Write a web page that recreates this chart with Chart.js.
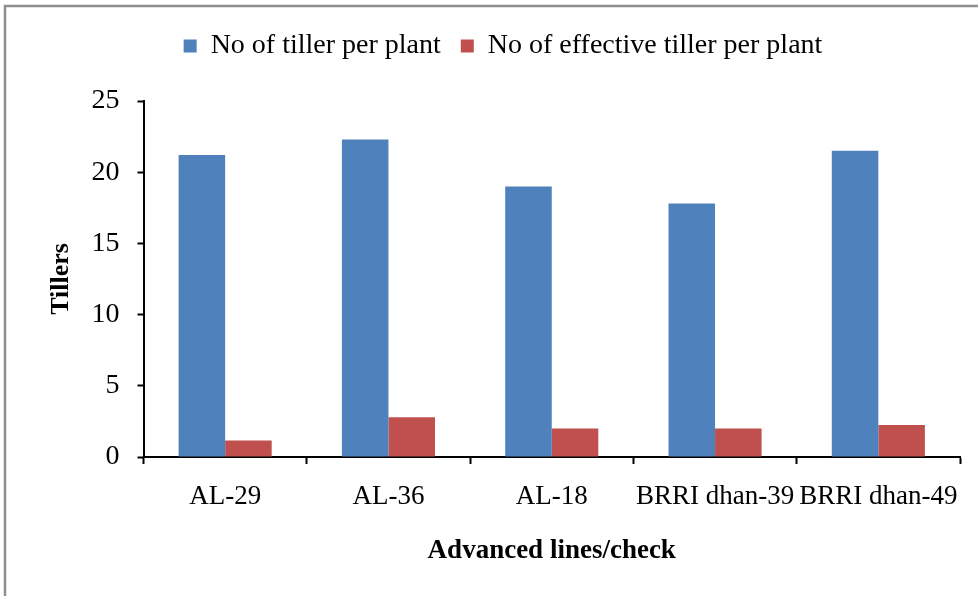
<!DOCTYPE html>
<html>
<head>
<meta charset="utf-8">
<script src="https://cdn.jsdelivr.net/npm/chart.js@4.4.1/dist/chart.umd.min.js"></script>
<style>
  html, body { margin: 0; padding: 0; background: #fff; }
  #wrap { width: 978px; height: 596px; position: relative; }
</style>
</head>
<body>
<div id="wrap"><canvas id="c" width="978" height="596"></canvas></div>
<script>
// Tiller counts per advanced line / check variety
const categories = ['AL-29', 'AL-36', 'AL-18', 'BRRI dhan-39', 'BRRI dhan-49'];
const tillerPerPlant = [21.2, 22.3, 19.0, 17.8, 21.5];
const effectiveTillerPerPlant = [1.15, 2.8, 2.0, 2.0, 2.25];
const seriesNames = ['No of tiller per plant', 'No of effective tiller per plant'];
const yTicks = [0, 5, 10, 15, 20, 25];

const FONT = "'Liberation Serif', 'Times New Roman', serif";
const LEGEND_BLOCK_HEIGHT = 89; // legend row plus the gap above the plot

// White page with a grey frame along the top and left edges
const framePlugin = {
  id: 'frame',
  beforeDraw(chart) {
    const ctx = chart.ctx;
    ctx.save();
    ctx.fillStyle = '#ffffff';
    ctx.fillRect(0, 0, chart.width, chart.height);
    ctx.strokeStyle = '#8f8f8f';
    ctx.lineWidth = 2.5;
    ctx.beginPath();
    ctx.moveTo(5, chart.height);
    ctx.lineTo(5, 6);
    ctx.lineTo(chart.width, 6);
    ctx.stroke();
    ctx.restore();
  }
};

// Give the legend a fixed block height so the plot starts lower
const legendSpacer = {
  id: 'legendSpacer',
  beforeLayout(chart) {
    const lg = chart.legend;
    if (lg && !lg._spaced) {
      const origFit = lg.fit.bind(lg);
      lg.fit = function () {
        origFit();
        this.height = LEGEND_BLOCK_HEIGHT;
      };
      lg._spaced = true;
    }
  }
};

new Chart(document.getElementById('c'), {
  type: 'bar',
  data: {
    labels: categories,
    datasets: [
      { label: seriesNames[0], data: tillerPerPlant, backgroundColor: '#4F81BD' },
      { label: seriesNames[1], data: effectiveTillerPerPlant, backgroundColor: '#C0504D' }
    ]
  },
  options: {
    responsive: false,
    animation: false,
    devicePixelRatio: 1,
    layout: { padding: { left: 46, right: 18, top: 12, bottom: 29 } },
    datasets: { bar: { barPercentage: 1.0, categoryPercentage: 0.57 } },
    plugins: {
      tooltip: { enabled: false },
      legend: {
        position: 'top',
        labels: {
          color: '#000',
          font: { family: FONT, size: 28 },
          boxWidth: 13,
          boxHeight: 13,
          padding: 20
        }
      }
    },
    scales: {
      x: {
        afterFit(scale) { scale.height = 110; },
        border: { color: '#000', width: 2 },
        grid: {
          display: true,
          drawOnChartArea: false,
          drawTicks: true,
          tickLength: 7,
          tickColor: '#000',
          tickWidth: 2
        },
        ticks: {
          color: '#000',
          font: { family: FONT, size: 27 },
          padding: 17,
          maxRotation: 0,
          autoSkip: false
        },
        title: {
          display: true,
          text: 'Advanced lines/check',
          color: '#000',
          font: { family: FONT, size: 27, weight: 'bold' },
          padding: { top: 0, bottom: 0 }
        }
      },
      y: {
        min: 0,
        max: 25,
        afterFit(scale) { scale.width = 97.5; },
        afterBuildTicks(scale) { scale.ticks = yTicks.map(v => ({ value: v })); },
        border: { color: '#000', width: 2 },
        grid: {
          display: true,
          drawOnChartArea: false,
          drawTicks: true,
          tickLength: 6,
          tickColor: '#000',
          tickWidth: 2
        },
        ticks: {
          color: '#000',
          font: { family: FONT, size: 28 },
          padding: 18
        },
        title: {
          display: true,
          text: 'Tillers',
          color: '#000',
          font: { family: FONT, size: 26, weight: 'bold' },
          padding: { top: 0, bottom: 0 }
        }
      }
    }
  },
  plugins: [framePlugin, legendSpacer]
});
</script>
</body>
</html>
